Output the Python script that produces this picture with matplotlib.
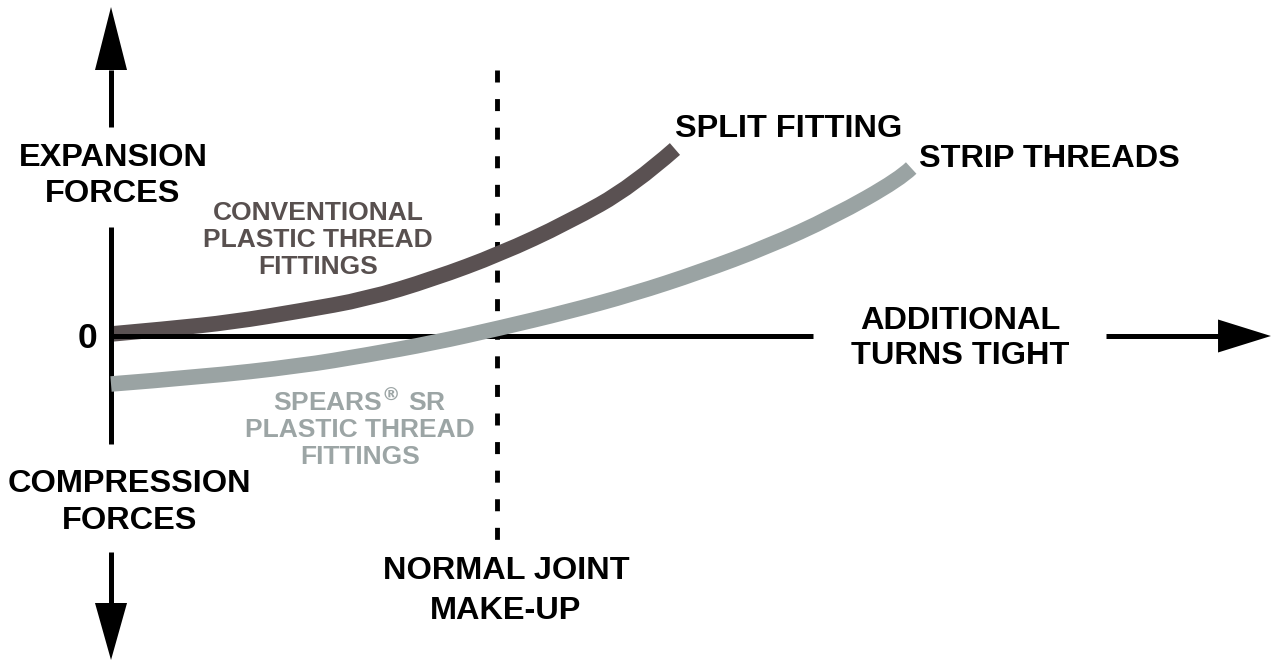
import matplotlib
matplotlib.use('Agg')
import matplotlib.pyplot as plt
from matplotlib.path import Path
from matplotlib.patches import PathPatch

plt.rcParams['font.family'] = ['Liberation Sans', 'DejaVu Sans']
plt.rcParams['font.weight'] = 'bold'

# x = turns past hand tight (1 = normal joint make-up), y = force on the fitting
conv_turns = [0.0, 0.145, 0.316, 0.490, 0.663, 0.834, 1.008, 1.181, 1.352, 1.461]
conv_force = [0.02, 0.07, 0.14, 0.25, 0.37, 0.57, 0.82, 1.13, 1.50, 1.87]

sr_turns = [0.0, 0.231, 0.490, 0.663, 0.834, 1.008, 1.181, 1.352, 1.526, 1.699, 1.870, 2.044, 2.073]
sr_force = [-0.48, -0.41, -0.30, -0.19, -0.07, 0.08, 0.24, 0.42, 0.64, 0.89, 1.19, 1.57, 1.68]

make_up = 1.0

dark = '#5a5152'
light = '#9aa3a3'


def smooth_curve(ax, xs, ys, **kw):
    # quadratic bezier through the read points (points act as control points)
    pts = list(zip(xs, ys))
    verts = [pts[0]]
    codes = [Path.MOVETO]
    for i in range(1, len(pts) - 1):
        nxt = pts[i + 1] if i == len(pts) - 2 else (
            (pts[i][0] + pts[i + 1][0]) / 2, (pts[i][1] + pts[i + 1][1]) / 2)
        verts += [pts[i], nxt]
        codes += [Path.CURVE3, Path.CURVE3]
    patch = PathPatch(Path(verts, codes), fill=False, capstyle='butt', **kw)
    ax.add_patch(patch)


fig = plt.figure(figsize=(12.72, 6.61), dpi=100)
ax = fig.add_axes([0, 0, 1, 1])
ax.set_xlim(-0.2876, 3.0078)
ax.set_ylim(-3.25, 3.36)
ax.axis('off')

# curves
smooth_curve(ax, conv_turns, conv_force, edgecolor=dark, lw=11.2, zorder=2)
smooth_curve(ax, sr_turns, sr_force, edgecolor=light, lw=11.2, zorder=4)

# axes drawn as broken arrows
axis_kw = dict(color='black', lw=3.6, solid_capstyle='butt', zorder=3)
for y0, y1 in [(2.09, 2.66), (-1.08, 1.09), (-2.67, -2.16)]:
    ax.plot([0, 0], [y0, y1], **axis_kw)
for x0, x1 in [(0, 1.819), (2.578, 2.87)]:
    ax.plot([x0, x1], [0, 0], **axis_kw)
hw = 0.0415
ax.fill([-hw, hw, 0], [2.66, 2.66, 3.29], color='black', lw=0, zorder=3)
ax.fill([-hw, hw, 0], [-2.67, -2.67, -3.24], color='black', lw=0, zorder=3)
ax.fill([2.868, 2.868, 3.005], [0.165, -0.165, 0], color='black', lw=0, zorder=3)

# normal joint make-up marker
ax.plot([make_up, make_up], [2.66, -2.04], color='black', lw=3.5,
        linestyle=(0, (2.47, 3.41)), zorder=1)

big = 23.4
ax.text(-0.06, -0.02, '0', fontsize=25.5, ha='center', va='center')
ax.text(0.005, 1.60, 'EXPANSION\nFORCES', fontsize=big, ha='center', va='center',
        linespacing=1.23)
ax.text(0.049, -1.665, 'COMPRESSION\nFORCES', fontsize=big, ha='center', va='center',
        linespacing=1.28)
ax.text(1.023, -2.55, 'NORMAL JOINT\nMAKE-UP', fontsize=big, ha='center', va='center',
        linespacing=1.42)
ax.text(2.2, -0.025, 'ADDITIONAL\nTURNS TIGHT', fontsize=big, ha='center', va='center',
        linespacing=1.18)
ax.text(1.461, 2.07, 'SPLIT FITTING', fontsize=big, ha='left', va='center')
ax.text(2.093, 1.77, 'STRIP THREADS', fontsize=big, ha='left', va='center')

small = 19
ax.text(0.537, 0.96, 'CONVENTIONAL\nPLASTIC THREAD\nFITTINGS', fontsize=small,
        color='#58504f', ha='center', va='center', linespacing=1.16)
ax.text(0.645, -0.92, 'SPEARS$^{\\circledR}$ SR\nPLASTIC THREAD\nFITTINGS', fontsize=small,
        color='#9ca5a5', ha='center', va='center', linespacing=1.12)

fig.savefig('out.png', dpi=100, facecolor='white')
